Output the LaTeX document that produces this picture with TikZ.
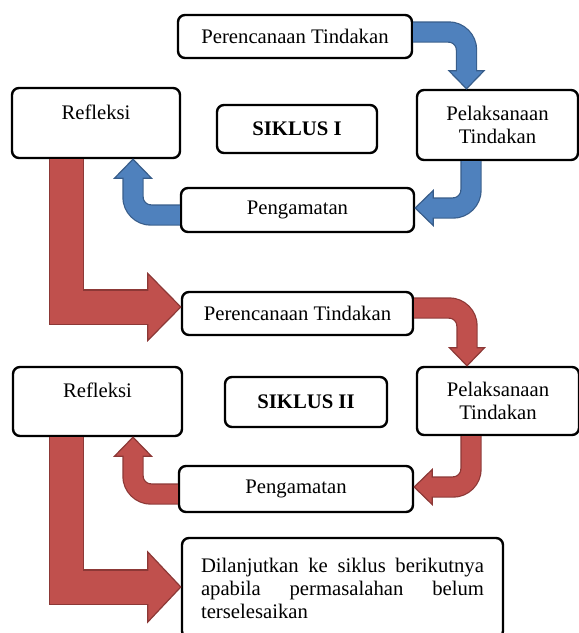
\documentclass[tikz,border=0pt]{standalone}
\usepackage{fontspec}
\setmainfont{Liberation Serif}
\usetikzlibrary{calc}
\definecolor{arrblue}{RGB}{79,129,189}
\definecolor{arrbluedark}{RGB}{56,93,138}
\definecolor{arrred}{RGB}{192,80,77}
\definecolor{arrreddark}{RGB}{140,56,54}
\hyphenpenalty=10000
\tolerance=10000
\tikzset{
  box/.style={draw, line width=2.4pt, rounded corners=7pt, fill=white, inner sep=0pt,
    align=center, font=\fontsize{20.7}{22.5}\selectfont},
  siklus/.style={box, font=\fontsize{20.7}{22.5}\selectfont\bfseries},
  roundbend/.style={rounded corners=18pt},
  squarebend/.style={sharp corners, line join=miter},
}
% #1 colour, #2 shaft width, #3 half head, #4 head length, #5 corner style,
% #6 start, #7 corner, #8 tip
\newcommand{\blockarrow}[8]{%
  \coordinate (a0) at (#6);
  \coordinate (a1) at (#8);
  \coordinate (ac) at (#7);
  \coordinate (hb) at ($(a1)!#4pt!(ac)$);
  \coordinate (hl) at ($(hb)!#3pt!90:(a1)$);
  \coordinate (hr) at ($(hb)!#3pt!-90:(a1)$);
  \pgfmathsetmacro\arrout{#2+2.4}
  \draw[#1dark, line width=\arrout pt, #5] (a0) -- (ac) -- (hb);
  \filldraw[fill=#1, draw=#1dark, line width=1.2pt, line join=miter] (hl) -- (a1) -- (hr) -- cycle;
  \draw[#1, line width=#2pt, #5] (a0) -- (ac) -- ($(hb)!1.5pt!(a1)$);
}

\begin{document}
\begin{tikzpicture}[x=1pt,y=-1pt]
  \useasboundingbox (0,0) rectangle (579,633);

  % siklus I
  \node[box, minimum width=234pt, minimum height=43pt] (p1) at (295,36.5) {Perencanaan Tindakan};
  \node[box, minimum width=168pt, minimum height=70pt] (r1) at (96,123) {Refleksi\\\mbox{}};
  \node[siklus, minimum width=160pt, minimum height=48pt] (s1) at (297,129) {SIKLUS I};
  \node[box, minimum width=161pt, minimum height=70pt] (pl1) at (497.5,125) {Pelaksanaan\\Tindakan};
  \node[box, minimum width=233pt, minimum height=44pt] (pg1) at (297.5,210) {Pengamatan};

  % siklus II
  \node[box, minimum width=231pt, minimum height=43pt] (p2) at (297.5,313.5) {Perencanaan Tindakan};
  \node[box, minimum width=169pt, minimum height=69pt] (r2) at (97.5,401.5) {Refleksi\\\mbox{}};
  \node[siklus, minimum width=162pt, minimum height=50pt] (s2) at (306,402) {SIKLUS II};
  \node[box, minimum width=162pt, minimum height=68pt] (pl2) at (498,401) {Pelaksanaan\\Tindakan};
  \node[box, minimum width=234pt, minimum height=46pt] (pg2) at (296,489) {Pengamatan};

  \node[box, minimum width=321pt, minimum height=100pt, text width=283pt, align=justify,
    font=\fontsize{20.7}{23}\selectfont] (d) at (342.5,588)
    {Dilanjutkan ke siklus berikutnya apabila permasalahan belum terselesaikan};

  % blue cycle
  \blockarrow{arrblue}{19}{17.5}{18}{roundbend}{$(p1.east)+(0,-4.5)$}{a1 |- a0}{$(pl1.north)+(-31,0)$}
  \blockarrow{arrblue}{19}{17.5}{18}{roundbend}{$(pl1.south)+(-26.5,0)$}{a0 |- a1}{$(pg1.east)+(0,-2)$}
  \blockarrow{arrblue}{19}{18.5}{19}{roundbend}{$(pg1.west)+(0,5)$}{a1 |- a0}{$(r1.south)+(37,0)$}

  % red
  \blockarrow{arrred}{33}{33.5}{33}{squarebend}{$(r1.south)+(-29.5,0)$}{a0 |- a1}{$(p2.west)+(0,-6.5)$}
  \blockarrow{arrred}{19}{17.5}{18}{roundbend}{$(p2.east)+(0,-5.5)$}{a1 |- a0}{$(pl2.north)+(-31,0)$}
  \blockarrow{arrred}{19}{17.5}{18}{roundbend}{$(pl2.south)+(-27,0)$}{a0 |- a1}{$(pg2.east)+(0,-2)$}
  \blockarrow{arrred}{19}{18.5}{19}{roundbend}{$(pg2.west)+(0,5)$}{a1 |- a0}{$(r2.south)+(35.5,0)$}
  \blockarrow{arrred}{33}{35}{33}{squarebend}{$(r2.south)+(-31,0)$}{a0 |- a1}{$(d.west)+(0,-1)$}
\end{tikzpicture}
\end{document}
